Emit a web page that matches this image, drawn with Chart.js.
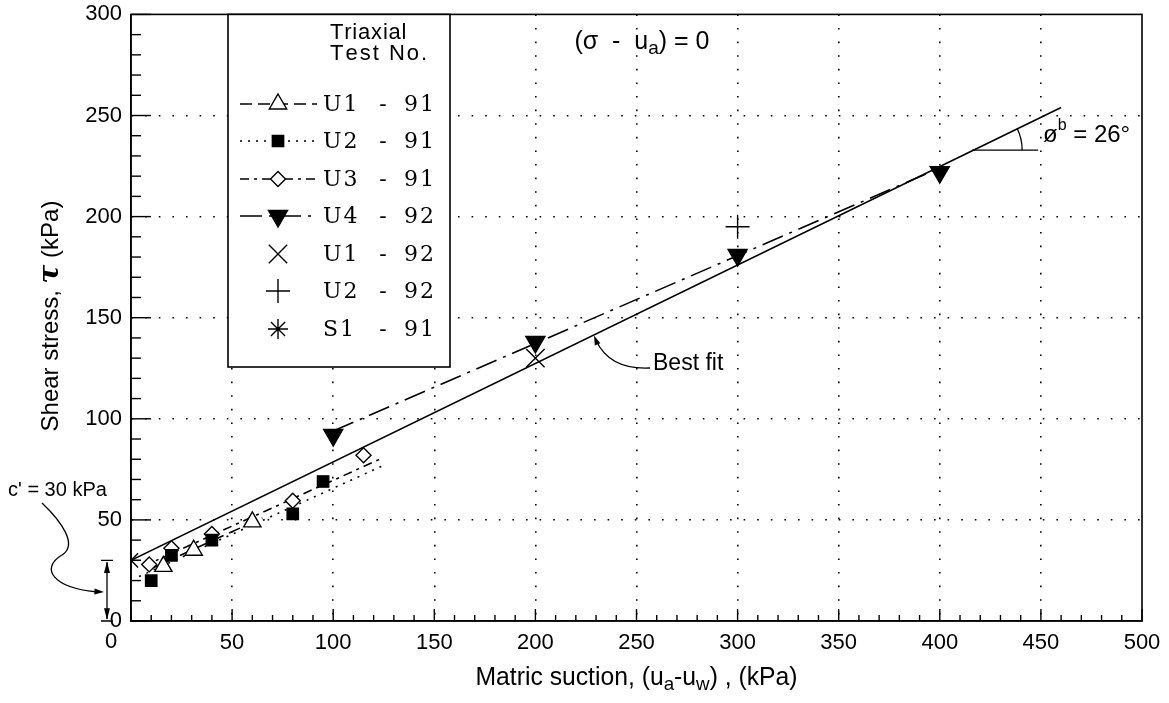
<!DOCTYPE html>
<html>
<head>
<meta charset="utf-8">
<script src="https://cdn.jsdelivr.net/npm/chart.js@4.4.0/dist/chart.umd.min.js"></script>
<style>
  html, body { margin: 0; padding: 0; background: #fff; }
</style>
</head>
<body>
<canvas id="shearChart" width="1169" height="703"></canvas>
<script>
// axis ticks
const xTickValues = [0, 50, 100, 150, 200, 250, 300, 350, 400, 450, 500];
const yTickValues = [0, 50, 100, 150, 200, 250, 300];

// measured points, (matric suction, shear stress) in kPa
const u191 = [{x: 16, y: 27}, {x: 31, y: 35}, {x: 60, y: 49}];
const u291 = [{x: 10, y: 20}, {x: 20, y: 32.5}, {x: 40, y: 40}, {x: 80, y: 53}, {x: 95, y: 69}];
const u391 = [{x: 9, y: 28}, {x: 20, y: 36}, {x: 40, y: 43}, {x: 80, y: 59.5}, {x: 115, y: 82}];
const u492 = [{x: 100, y: 92}, {x: 200, y: 138}, {x: 300, y: 181}, {x: 400, y: 222}];
const u192 = [{x: 200, y: 130}];
const u292 = [{x: 300, y: 195}];
const s191 = [{x: 0, y: 30}];

// fitted lines (end points)
const bestFit = [{x: 0, y: 30}, {x: 460, y: 254}];
const u191Fit = [{x: 8, y: 25}, {x: 65, y: 51}];
const u291Fit = [{x: 4, y: 22}, {x: 125, y: 77}];
const u391Fit = [{x: 6, y: 27}, {x: 123, y: 80}];
const u492Fit = [{x: 100, y: 94}, {x: 400, y: 224}];

const black = "#000";

const markers = [
  {label: "U1 - 91", data: u191, pointStyle: "triangle", pointRadius: 10, pointBackgroundColor: "#fff", rotation: 0},
  {label: "U2 - 91", data: u291, pointStyle: "rect", pointRadius: 8, pointBackgroundColor: black, rotation: 0},
  {label: "U3 - 91", data: u391, pointStyle: "rectRot", pointRadius: 7.5, pointBackgroundColor: "#fff", rotation: 0},
  {label: "U4 - 92", data: u492, pointStyle: "triangle", pointRadius: 11, pointBackgroundColor: black, rotation: 180},
  {label: "U1 - 92", data: u192, pointStyle: "crossRot", pointRadius: 13, pointBackgroundColor: "#fff", rotation: 0},
  {label: "U2 - 92", data: u292, pointStyle: "cross", pointRadius: 12, pointBackgroundColor: "#fff", rotation: 0},
  {label: "S1 - 91", data: s191, pointStyle: "star", pointRadius: 10, pointBackgroundColor: "#fff", rotation: 0}
];

const fits = [
  {data: u191Fit, dash: [12, 6]},
  {data: u291Fit, dash: [2, 6]},
  {data: u391Fit, dash: [9, 5, 3, 5]},
  {data: u492Fit, dash: [22, 7, 3, 7]},
  {data: bestFit, dash: []}
];

const datasets = [];
markers.forEach((m) => {
  datasets.push({
    label: m.label,
    data: m.data,
    showLine: false,
    pointStyle: m.pointStyle,
    pointRadius: m.pointRadius,
    pointRotation: m.rotation,
    pointBackgroundColor: m.pointBackgroundColor,
    pointBorderColor: black,
    pointBorderWidth: 1.4
  });
});
fits.forEach((f) => {
  datasets.push({
    data: f.data,
    showLine: true,
    borderColor: black,
    borderWidth: 1.6,
    borderDash: f.dash,
    pointRadius: 0
  });
});

// legend rows
const legendDash = [[12, 6], [2, 6], [9, 5, 3, 5], [22, 7, 3, 7], null, null, null];
const legendRowY = [104, 141, 179, 216, 254, 291, 329];

const SANS = "'Liberation Sans', Arial, sans-serif";
const SERIF = "'DejaVu Serif', 'Liberation Serif', serif";

function richText(ctx, parts, x, y, align, targetWidth) {
  let w = 0;
  parts.forEach((p) => { ctx.font = p.font; w += ctx.measureText(p.t).width; });
  const sx = targetWidth ? targetWidth / w : 1;
  const total = w * sx;
  const start = align === "center" ? x - total / 2 : (align === "right" ? x - total : x);
  ctx.save();
  ctx.translate(start, y);
  ctx.scale(sx, 1);
  ctx.textAlign = "left";
  ctx.textBaseline = "middle";
  let cx = 0;
  parts.forEach((p) => {
    ctx.font = p.font;
    ctx.fillText(p.t, cx, p.dy || 0);
    cx += ctx.measureText(p.t).width;
  });
  ctx.restore();
}

function spacedText(ctx, text, x, y, gap) {
  let cx = x;
  for (const ch of text) {
    ctx.fillText(ch, cx, y);
    cx += ctx.measureText(ch).width + gap;
  }
}

function arrowHead(ctx, x, y, angle, len, spread) {
  ctx.beginPath();
  ctx.moveTo(x, y);
  ctx.lineTo(x - len * Math.cos(angle - spread), y - len * Math.sin(angle - spread));
  ctx.lineTo(x - len * Math.cos(angle + spread), y - len * Math.sin(angle + spread));
  ctx.closePath();
  ctx.fill();
}

const annotate = {
  id: "annotate",
  afterDraw(chart) {
    const ctx = chart.ctx;
    const xs = chart.scales.x;
    const ys = chart.scales.y;
    const a = chart.chartArea;
    ctx.save();
    ctx.fillStyle = black;
    ctx.strokeStyle = black;

    // frame
    ctx.lineWidth = 1.6;
    ctx.strokeRect(a.left, a.top, a.right - a.left, a.bottom - a.top);

    // inward tick marks
    ctx.lineWidth = 1.4;
    for (let v = 0; v <= 300; v += 10) {
      const py = ys.getPixelForValue(v);
      const len = v % 50 === 0 ? 20 : 10;
      ctx.beginPath();
      ctx.moveTo(a.left, py);
      ctx.lineTo(a.left + len, py);
      ctx.stroke();
    }
    for (let v = 0; v <= 500; v += 10) {
      const px = xs.getPixelForValue(v);
      const len = v % 50 === 0 ? 12 : 6;
      ctx.beginPath();
      ctx.moveTo(px, a.bottom);
      ctx.lineTo(px, a.bottom - len);
      ctx.stroke();
    }

    // "0" on x axis sits left of the origin
    ctx.font = "22px " + SANS;
    ctx.textAlign = "center";
    ctx.textBaseline = "middle";
    ctx.fillText("0", xs.getPixelForValue(0) - 20, 642);

    // axis titles
    richText(ctx, [
      {t: "Matric suction, (u", font: "25px " + SANS},
      {t: "a", font: "19px " + SANS, dy: 7},
      {t: "-u", font: "25px " + SANS},
      {t: "w", font: "19px " + SANS, dy: 7},
      {t: ") , (kPa)", font: "25px " + SANS}
    ], (a.left + a.right) / 2, 678, "center", 322);

    ctx.save();
    ctx.translate(51, 316);
    ctx.rotate(-Math.PI / 2);
    richText(ctx, [
      {t: "Shear stress, ", font: "24px " + SANS},
      {t: "\u03C4", font: "bold italic 28px " + SERIF},
      {t: " (kPa)", font: "24px " + SANS}
    ], 0, 0, "center");
    ctx.restore();

    // condition label
    richText(ctx, [
      {t: "(\u03C3  -  u", font: "25px " + SANS},
      {t: "a", font: "19px " + SANS, dy: 7},
      {t: ") = 0", font: "25px " + SANS}
    ], 642, 42, "center");

    // best-fit pointer
    const bx = xs.getPixelForValue(229);
    const by = ys.getPixelForValue(30 + 0.4877 * 229);
    ctx.lineWidth = 1.3;
    ctx.beginPath();
    ctx.moveTo(650, 368);
    ctx.quadraticCurveTo(610, 370, bx + 2, by + 6);
    ctx.stroke();
    arrowHead(ctx, bx, by + 1, -Math.PI * 0.62, 10, 0.3);
    ctx.font = "23px " + SANS;
    ctx.textAlign = "left";
    ctx.textBaseline = "middle";
    ctx.fillText("Best fit", 653, 364);

    // phi_b angle
    const ax = xs.getPixelForValue(416);
    const ay = ys.getPixelForValue(30 + 0.4877 * 416);
    ctx.beginPath();
    ctx.moveTo(ax, ay);
    ctx.lineTo(ax + 66, ay);
    ctx.stroke();
    ctx.beginPath();
    ctx.arc(ax, ay, 50, -26 * Math.PI / 180, 0);
    ctx.stroke();
    richText(ctx, [
      {t: "\u00F8", font: "24px " + SANS},
      {t: "b", font: "16px " + SANS, dy: -9},
      {t: " = 26\u00B0", font: "24px " + SANS}
    ], 1043, 135, "left");

    // cohesion intercept
    const cx = 107;
    const c0 = ys.getPixelForValue(0);
    const c30 = ys.getPixelForValue(30);
    ctx.beginPath();
    ctx.moveTo(cx, c30 + 2);
    ctx.lineTo(cx, c0 - 2);
    ctx.moveTo(cx - 6, c30);
    ctx.lineTo(cx + 6, c30);
    ctx.moveTo(cx - 6, c0);
    ctx.lineTo(cx + 6, c0);
    ctx.stroke();
    arrowHead(ctx, cx, c30 + 1, -Math.PI / 2, 12, 0.25);
    arrowHead(ctx, cx, c0 - 1, Math.PI / 2, 12, 0.25);
    ctx.beginPath();
    ctx.moveTo(42, 503);
    ctx.bezierCurveTo(62, 522, 78, 545, 62, 555);
    ctx.bezierCurveTo(40, 568, 52, 588, 98, 592);
    ctx.stroke();
    arrowHead(ctx, 104, 592, 0.05, 10, 0.3);
    ctx.font = "20px " + SANS;
    ctx.textAlign = "left";
    ctx.fillText("c' = 30 kPa", 8, 490);

    // legend box
    const lx0 = 228, lx1 = 450, ly0 = a.top, ly1 = 367;
    ctx.fillStyle = "#fff";
    ctx.fillRect(lx0, ly0, lx1 - lx0, ly1 - ly0);
    ctx.fillStyle = black;
    ctx.lineWidth = 1.6;
    ctx.strokeRect(lx0, ly0, lx1 - lx0, ly1 - ly0);
    ctx.font = "22px " + SANS;
    ctx.textAlign = "left";
    ctx.textBaseline = "middle";
    spacedText(ctx, "Triaxial", 330, 33, 0.8);
    spacedText(ctx, "Test No.", 330, 54, 2);
    markers.forEach((m, i) => {
      const ry = legendRowY[i];
      const dash = legendDash[i];
      if (dash) {
        ctx.save();
        ctx.lineWidth = 1.6;
        ctx.setLineDash(dash);
        ctx.beginPath();
        ctx.moveTo(240, ry);
        ctx.lineTo(317, ry);
        ctx.stroke();
        ctx.restore();
      }
      ctx.save();
      ctx.lineWidth = 1.4;
      ctx.fillStyle = m.pointBackgroundColor;
      ctx.strokeStyle = black;
      Chart.helpers.drawPoint(ctx, {
        pointStyle: m.pointStyle,
        radius: m.pointRadius,
        rotation: m.rotation,
        borderWidth: 1.4
      }, 278, ry);
      ctx.restore();
      const parts = m.label.split(" - ");
      ctx.font = "22px " + SERIF;
      ctx.textAlign = "left";
      ctx.textBaseline = "middle";
      spacedText(ctx, parts[0], 323, ry + 1, 2);
      ctx.textAlign = "center";
      ctx.fillText("-", 383, ry + 1);
      ctx.textAlign = "left";
      spacedText(ctx, parts[1], 404, ry + 1, 2);
    });

    ctx.restore();
  }
};

const gridColor = (max) => (c) =>
  (c.tick && (c.tick.value === 0 || c.tick.value === max)) ? "rgba(0,0,0,0)" : black;

new Chart(document.getElementById("shearChart"), {
  type: "scatter",
  data: { datasets: datasets },
  options: {
    responsive: false,
    animation: false,
    layout: { padding: { left: 0, top: 12, right: 27, bottom: 0 } },
    plugins: { legend: { display: false }, tooltip: { enabled: false } },
    scales: {
      x: {
        type: "linear",
        min: 0,
        max: 500,
        afterBuildTicks: (s) => { s.ticks = xTickValues.map((v) => ({ value: v })); },
        afterFit: (s) => { s.height = 82; s.paddingLeft = 0; s.paddingRight = 0; },
        grid: { color: gridColor(500), lineWidth: 1.6, drawTicks: false },
        border: { display: true, color: black, width: 1.6, dash: [1.6, 12] },
        ticks: {
          color: black,
          padding: 9,
          maxRotation: 0,
          font: { family: SANS, size: 22 },
          callback: (v) => (v === 0 ? "" : v)
        }
      },
      y: {
        type: "linear",
        min: 0,
        max: 300,
        afterBuildTicks: (s) => { s.ticks = yTickValues.map((v) => ({ value: v })); },
        afterFit: (s) => { s.width = 131; s.paddingTop = 0; s.paddingBottom = 0; },
        grid: { color: gridColor(300), lineWidth: 1.6, drawTicks: false },
        border: { display: true, color: black, width: 1.6, dash: [1.6, 12] },
        ticks: {
          color: black,
          padding: 9,
          font: { family: SANS, size: 22 }
        }
      }
    }
  },
  plugins: [annotate]
});
</script>
</body>
</html>
